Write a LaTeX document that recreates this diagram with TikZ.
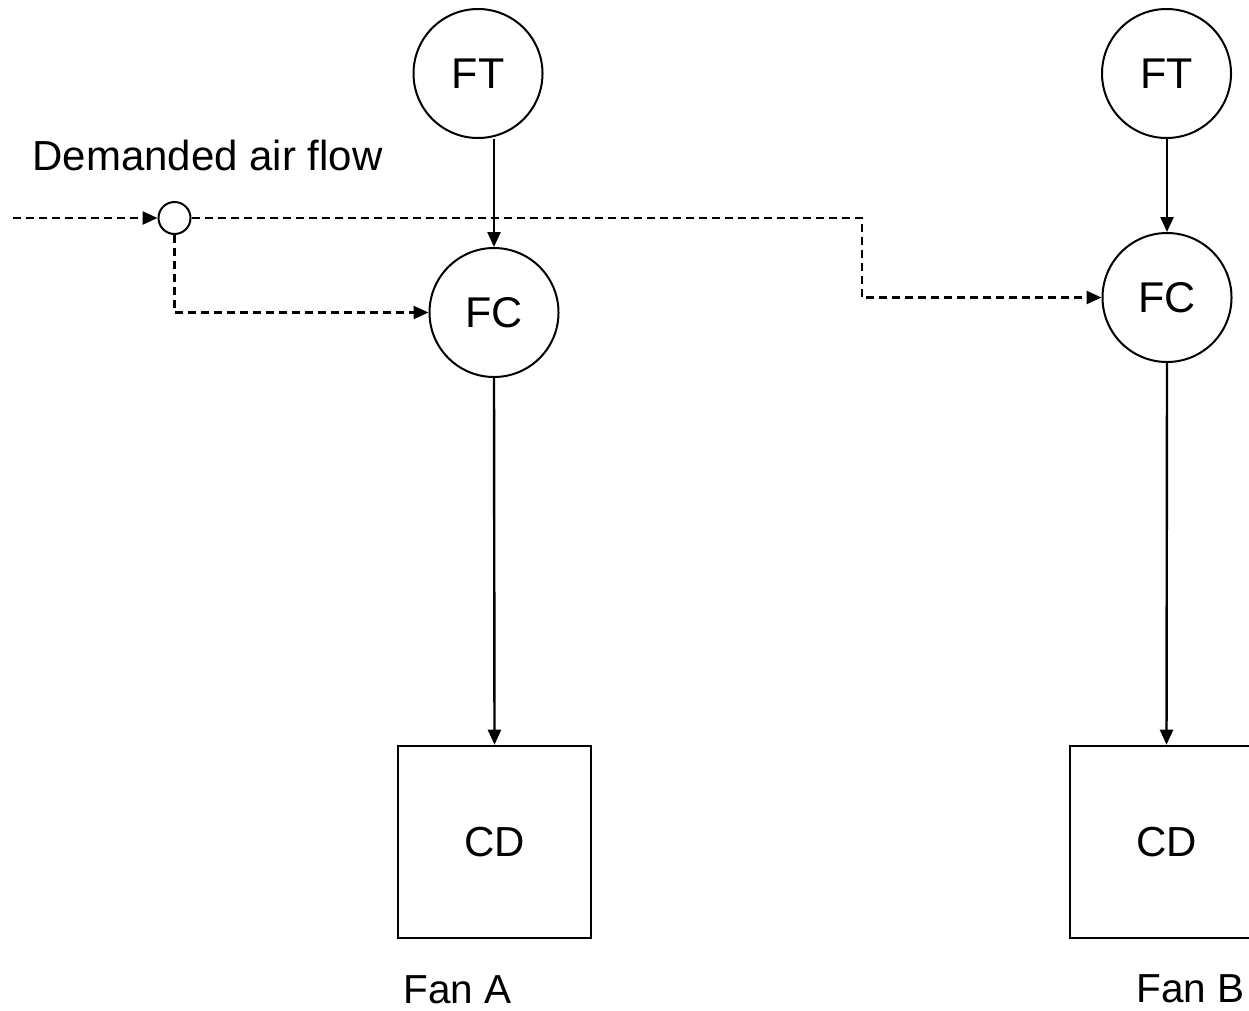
\documentclass[tikz,border=0pt]{standalone}
\usepackage{fontspec}
\setmainfont{Liberation Sans}
\usetikzlibrary{arrows.meta}
\begin{document}
\begin{tikzpicture}[x=1pt,y=-1pt,
  line width=2.4pt,
  font=\fontsize{40.5}{48}\selectfont,
  instr/.style={circle,draw,line width=2pt,minimum size=129pt,inner sep=0pt,font=\fontsize{43}{48}\selectfont},
  drive/.style={rectangle,draw,line width=2.6pt,minimum width=193pt,minimum height=192pt,inner sep=0pt,font=\fontsize{42}{48}\selectfont},
  junction/.style={circle,draw,line width=2pt,minimum size=32pt,inner sep=0pt},
  signal/.style={-{Triangle[length=15pt,width=13pt]}},
  setpoint/.style={signal,dash pattern=on 8pt off 5pt}]
\useasboundingbox (0,0) rectangle (1249,1010);
\clip (0,0) rectangle (1249,1010);

% Fan A loop
\node[instr] (ftA) at (478,73.5) {FT};
\node[instr] (fcA) at (494,312.5) {FC};
\node[drive] (cdA) at (494.5,842) {CD};
\node[anchor=base west] (fanA) at (399,1003) {Fan A};

% Fan B loop
\node[instr] (ftB) at (1166.5,73.5) {FT};
\node[instr] (fcB) at (1167,297.5) {FC};
\node[drive] (cdB) at (1166.5,842) {CD};
\node[anchor=base west] (fanB) at (1132,1002) {Fan B};

% Demanded air flow set point, split to both controllers
\node[anchor=base west,font=\fontsize{42}{48}\selectfont] (demand) at (28,170) {Demanded air flow};
\node[junction] (split) at (174.5,218) {};
\coordinate (src) at (13,218);
\coordinate (bend) at (862,218);

\draw[setpoint] (src) -- (split.west);
\draw[setpoint] (split.east) -- (bend) |- (fcB.west);
\draw[setpoint] (split.south) |- (fcA.west);

% Measurement and control signals
\draw[signal] (ftA.south -| fcA.north) -- (fcA.north);
\draw[signal] (fcA.south) -- (cdA.north);
\draw[signal] (ftB.south -| fcB.north) -- (fcB.north);
\draw[signal] (fcB.south) -- (cdB.north);
\end{tikzpicture}
\end{document}
